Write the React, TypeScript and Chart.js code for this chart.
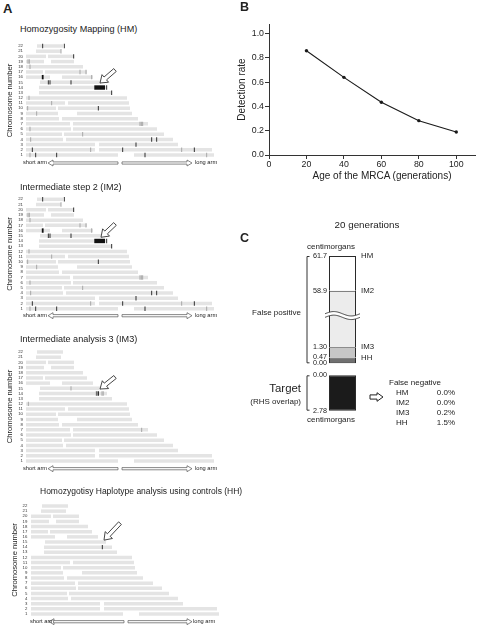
import React, { useEffect, useRef } from 'react';
import { Chart, registerables } from 'chart.js';

Chart.register(...registerables);

const FONT = "'Liberation Sans', Arial, Helvetica, sans-serif";
const INK = '#222222';

// ---------------- Panel A data (positions along each chromosome, arbitrary map units) ----------------
const CHROMOSOMES = ['22', '21', '20', '19', '18', '17', '16', '15', '14', '13', '12', '11', '10', '9', '8', '7', '6', '5', '4', '3', '2', '1'];
const SHORT_ARM = [null, null, [0, 20], [0, 18], [0, 57], [0, 17], [0, 24], null, null, null, [0, 101], [0, 39], [0, 30], [0, 32], [0, 33], [0, 44], [0, 45], [0, 36], [0, 37], [0, 69], [0, 69], [0, 92]];
const LONG_ARM = [[11, 37], [10, 35], [22, 48], [25, 48], null, [19, 61], [36, 67], [14, 75], [13, 81], [13, 86], null, [42, 103], [32, 104], [51, 106], [36, 112], [47, 122], [47, 131], [38, 138], [40, 147], [73, 152], [73, 186], [108, 188]];

const HM_DARK_MARKS = [['22', 16.7], ['22', 38.3], ['20', 47.7], ['15', 22.3], ['15', 24], ['15', 45], ['14', 80.7], ['13', 85.7], ['10', 72.3], ['4', 125.7], ['4', 130.7], ['3', 110], ['2', 6.3], ['2', 96.7], ['2', 168.3], ['1', 9.7], ['1', 30.7], ['1', 119]];
const HM_GRAY_MARKS = [['21', 35], ['19', 2], ['19', 3.3], ['18', 4], ['17', 54], ['17', 60], ['16', 65.7], ['12', 3], ['11', 25.7], ['10', 1.7], ['9', 10.7], ['7', 114], ['7', 115.3], ['7', 116.7], ['6', 4], ['5', 56.7], ['4', 4.7], ['2', 64.7], ['2', 155.7], ['1', 4], ['1', 180.7]];
const HM_BLOCKS = [['16', 15.8, 17.6], ['14', 68.3, 79]];

const IM2_DARK_MARKS = HM_DARK_MARKS;
const IM2_GRAY_MARKS = HM_GRAY_MARKS;
const IM2_BLOCKS = HM_BLOCKS;

const IM3_DARK_MARKS = [['14', 71], ['14', 72.5]];
const IM3_GRAY_MARKS = [['15', 45], ['14', 70.2], ['14', 76], ['14', 77.2], ['12', 2.3], ['7', 115.7]];
const IM3_BLOCKS = [];

const HH_DARK_MARKS = [['14', 71.3]];
const HH_GRAY_MARKS = [];
const HH_BLOCKS = [];

// ---------------- Panel B data ----------------
const MRCA_AGES = [20, 40, 60, 80, 100];
const DETECTION_RATE = [0.86, 0.64, 0.435, 0.283, 0.19];
const AGE_TICKS = [0, 20, 40, 60, 80, 100];
const RATE_TICKS = [0, 0.2, 0.4, 0.6, 0.8, 1.0];

// ---------------- Panel C data ----------------
const METHODS = ['HM', 'IM2', 'IM3', 'HH'];
const FP_LEVELS = [61.7, 58.9, 1.3, 0.47]; // false positive extent (cM)
const FP_LEVEL_LABELS = ['61.7', '58.9', '1.30', '0.47', '0.00'];
const TARGET_RANGE = [0, 2.78];
const TARGET_LABELS = ['0.00', '2.78'];
const FALSE_NEGATIVE = [0.0, 0.0, 0.2, 1.5];

// ---------------- styling ----------------
const ARM_COLOR = '#e4e4e4';
const MARK_DARK = '#1c1c1c';
const MARK_GRAY = '#a0a0a0';
const MARK_W = 0.9;
const X_SPAN = 200;
const BAND_COLORS = ['#ffffff', '#ececec', '#c6c6c6', '#707070'];
const CUT_ABOVE = 4;
const CUT_SIZE = 53.05;
const BREAK_AT = 3.85;
const shown = (v: number) => (v > CUT_ABOVE ? v - CUT_SIZE : v);

const PANELS_A = [
  { key: 'HM', title: 'Homozygosity Mapping (HM)', titleX: 20, titleY: 30, titleSize: 9.1, row22: 46, row1: 155, left: 26, tickPad: 3, yTitlePad: 5.5, legendY: 163, legend: [23, 48, 118, 122, 192, 195], ptr: [74, -4.5, 89, -17.5], dark: HM_DARK_MARKS, gray: HM_GRAY_MARKS, blocks: HM_BLOCKS },
  { key: 'IM2', title: 'Intermediate step 2 (IM2)', titleX: 20, titleY: 188, titleSize: 9.1, row22: 199.3, row1: 308.7, left: 26, tickPad: 3, yTitlePad: 5.5, legendY: 315.7, legend: [23, 48, 118, 122, 192, 195], ptr: [75, -3.7, 89, -17], dark: IM2_DARK_MARKS, gray: IM2_GRAY_MARKS, blocks: IM2_BLOCKS },
  { key: 'IM3', title: 'Intermediate analysis 3 (IM3)', titleX: 20, titleY: 340, titleSize: 9.1, row22: 352, row1: 461, left: 26, tickPad: 3, yTitlePad: 5.5, legendY: 468.7, legend: [23, 48, 118, 122, 192, 195], ptr: [74, -4.5, 89, -16.5], dark: IM3_DARK_MARKS, gray: IM3_GRAY_MARKS, blocks: IM3_BLOCKS },
  { key: 'HH', title: 'Homozygotisy Haplotype analysis using controls (HH)', titleX: 40, titleY: 491.7, titleSize: 8.5, row22: 506, row1: 614, left: 31, tickPad: 3.7, yTitlePad: 10.5, legendY: 621.7, legend: [30, 49, 124, 128, 192, 193], ptr: [73, -7, 89, -24], dark: HH_DARK_MARKS, gray: HH_GRAY_MARKS, blocks: HH_BLOCKS },
];

function hollowArrow(ctx: CanvasRenderingContext2D, tx: number, ty: number, fx: number, fy: number, headLen: number, headHalf: number, shaftHalf: number, color: string, lw: number) {
  const L = Math.hypot(fx - tx, fy - ty);
  const dx = (fx - tx) / L, dy = (fy - ty) / L;
  const nx = -dy, ny = dx;
  const hx = tx + dx * headLen, hy = ty + dy * headLen;
  ctx.save();
  ctx.beginPath();
  ctx.moveTo(tx, ty);
  ctx.lineTo(hx + nx * headHalf, hy + ny * headHalf);
  ctx.lineTo(hx + nx * shaftHalf, hy + ny * shaftHalf);
  ctx.lineTo(fx + nx * shaftHalf, fy + ny * shaftHalf);
  ctx.lineTo(fx - nx * shaftHalf, fy - ny * shaftHalf);
  ctx.lineTo(hx - nx * shaftHalf, hy - ny * shaftHalf);
  ctx.lineTo(hx - nx * headHalf, hy - ny * headHalf);
  ctx.closePath();
  ctx.fillStyle = '#ffffff';
  ctx.fill();
  ctx.strokeStyle = color;
  ctx.lineWidth = lw;
  ctx.lineJoin = 'miter';
  ctx.stroke();
  ctx.restore();
}

const flatBar = { borderWidth: 0, borderColor: 'rgba(0,0,0,0)', inflateAmount: 0, borderSkipped: false };

function panelAConfig(p: any, top: number, height: number) {
  const sp = (p.row1 - p.row22) / 21;
  const areaTop = p.row22 - sp / 2 - top;
  const areaBottom = p.row1 + sp / 2 - top;
  const line = (m: any) => ({ y: m[0], x: [m[1] - MARK_W / 2, m[1] + MARK_W / 2] });
  const block = (m: any) => ({ y: m[0], x: [m[1], m[2]] });
  const decor = {
    id: 'decorA' + p.key,
    afterDraw(chart: any) {
      const ctx = chart.ctx;
      const xs = chart.scales.x;
      const ys = chart.scales.y;
      const y14 = ys.getPixelForValue(CHROMOSOMES.indexOf('14'));
      hollowArrow(ctx, xs.getPixelForValue(p.ptr[0]), y14 + p.ptr[1], xs.getPixelForValue(p.ptr[2]), y14 + p.ptr[3], 7, 5, 1.9, '#333', 0.9);
      const ly = p.legendY - top;
      const [, l1, l2, r1, r2] = p.legend;
      hollowArrow(ctx, l1, ly, l2, ly, 5, 3, 1.1, '#555', 0.7);
      hollowArrow(ctx, r2, ly, r1, ly, 5, 3, 1.1, '#555', 0.7);
    },
  };
  // Chart.js paints datasets from last to first: the arms are listed last so that the marks sit on top.
  return {
    type: 'bar',
    data: {
      labels: CHROMOSOMES,
      datasets: [
        { data: p.blocks.map(block), backgroundColor: '#111111', barThickness: 4.4, ...flatBar },
        { data: p.dark.map(line), backgroundColor: MARK_DARK, barThickness: 4.4, ...flatBar },
        { data: p.gray.map(line), backgroundColor: MARK_GRAY, barThickness: 4.4, ...flatBar },
        { data: LONG_ARM, backgroundColor: ARM_COLOR, barThickness: 3.5, ...flatBar },
        { data: SHORT_ARM, backgroundColor: ARM_COLOR, barThickness: 3.5, ...flatBar },
      ],
    },
    options: {
      indexAxis: 'y',
      responsive: false,
      animation: false,
      events: [],
      datasets: { bar: { grouped: false, clip: false } },
      layout: { padding: { top: areaTop, bottom: height - areaBottom, left: 0, right: 240 - p.left - X_SPAN } },
      plugins: { legend: { display: false }, tooltip: { enabled: false } },
      scales: {
        x: { type: 'linear', display: false, min: 0, max: X_SPAN },
        y: {
          type: 'category',
          offset: true,
          grid: { display: false, drawTicks: false },
          border: { display: false },
          ticks: { font: { family: FONT, size: 4.3 }, color: '#333', padding: p.tickPad, autoSkip: false },
          afterFit: (s: any) => { s.width = p.left; },
          title: { display: true, text: 'Chromosome number', font: { family: FONT, size: 7.6 }, color: INK, padding: { top: p.yTitlePad, bottom: 0 } },
        },
      },
    },
    plugins: [decor],
  };
}

function panelBConfig() {
  const axisGrid = { display: true, drawOnChartArea: false, drawTicks: true, tickLength: 4, color: '#333', lineWidth: 1 };
  return {
    type: 'line',
    data: {
      datasets: [{
        data: MRCA_AGES.map((a, i) => ({ x: a, y: DETECTION_RATE[i] })),
        borderColor: '#1a1a1a', borderWidth: 1.1, pointRadius: 1.7, pointBackgroundColor: '#1a1a1a', pointBorderWidth: 0, tension: 0,
      }],
    },
    options: {
      responsive: false,
      animation: false,
      events: [],
      layout: { padding: { top: 24, right: 5, left: 0, bottom: 0 } },
      plugins: { legend: { display: false }, tooltip: { enabled: false } },
      scales: {
        x: {
          type: 'linear', min: 0, max: 110,
          afterBuildTicks: (s: any) => { s.ticks = AGE_TICKS.map((v) => ({ value: v })); },
          ticks: { font: { family: FONT, size: 8.8 }, color: INK, padding: 0, maxRotation: 0, autoSkip: false, callback: (v: any) => String(v) },
          grid: axisGrid,
          border: { display: true, color: '#333', width: 1 },
          afterFit: (s: any) => { s.height = 30; },
        },
        y: {
          type: 'linear', min: 0, max: 1.08,
          afterBuildTicks: (s: any) => { s.ticks = RATE_TICKS.map((v) => ({ value: v })); },
          ticks: { font: { family: FONT, size: 8.8 }, color: INK, padding: 1, autoSkip: false, callback: (v: any) => Number(v).toFixed(1) },
          grid: axisGrid,
          border: { display: true, color: '#333', width: 1 },
          afterFit: (s: any) => { s.width = 33; },
          title: { display: true, text: 'Detection rate', font: { family: FONT, size: 10 }, color: INK, padding: { top: 0, bottom: 0 } },
        },
      },
    },
  };
}

function bracket(ctx: any, x: number, y1: number, y2: number) {
  ctx.save();
  ctx.strokeStyle = '#333';
  ctx.lineWidth = 1;
  ctx.beginPath();
  ctx.moveTo(x + 3, y1 + 0.5);
  ctx.lineTo(x + 0.5, y1 + 0.5);
  ctx.lineTo(x + 0.5, y2 - 0.5);
  ctx.lineTo(x + 3, y2 - 0.5);
  ctx.stroke();
  ctx.restore();
}

const sideAxis = (labels: string[], values: number[], pos: string, width: number, pad: number, size: number, extra: any) => ({
  type: 'linear',
  position: pos,
  ...extra,
  afterBuildTicks: (s: any) => { s.ticks = values.map((v) => ({ value: v })); },
  ticks: { autoSkip: false, padding: pad, font: { family: FONT, size }, color: INK, callback: (_v: any, i: number) => labels[i] },
  grid: { display: false, drawTicks: false },
  border: { display: false },
  afterFit: (s: any) => { s.width = width; },
});

function panelC1Config() {
  const maxShown = shown(FP_LEVELS[0]);
  const decor = {
    id: 'decorC1',
    afterDatasetsDraw(chart: any) {
      const ctx = chart.ctx;
      const area = chart.chartArea;
      const y0 = chart.scales.y.getPixelForValue(BREAK_AT);
      const xL = area.left - 4, xR = area.right + 4;
      const wave = (off: number, t: number) => y0 + off - 2.2 * Math.sin(t * Math.PI * 2);
      ctx.save();
      ctx.beginPath();
      for (let k = 0; k <= 40; k++) { const t = k / 40; const x = xL + t * (xR - xL); k === 0 ? ctx.moveTo(x, wave(-1.8, t)) : ctx.lineTo(x, wave(-1.8, t)); }
      for (let k = 40; k >= 0; k--) { const t = k / 40; ctx.lineTo(xL + t * (xR - xL), wave(1.8, t)); }
      ctx.closePath();
      ctx.fillStyle = '#ffffff';
      ctx.fill();
      ctx.strokeStyle = '#333';
      ctx.lineWidth = 0.9;
      [-1.8, 1.8].forEach((off) => {
        ctx.beginPath();
        for (let k = 0; k <= 40; k++) { const t = k / 40; const x = xL + t * (xR - xL); k === 0 ? ctx.moveTo(x, wave(off, t)) : ctx.lineTo(x, wave(off, t)); }
        ctx.stroke();
      });
      ctx.restore();
    },
    afterDraw(chart: any) {
      const area = chart.chartArea;
      bracket(chart.ctx, 66.5, area.top, area.bottom);
    },
  };
  return {
    type: 'bar',
    data: {
      labels: [''],
      datasets: METHODS.map((m, i) => ({
        label: m,
        data: [[shown(FP_LEVELS[i + 1] ?? 0), shown(FP_LEVELS[i])]],
        backgroundColor: BAND_COLORS[i],
        borderColor: '#2a2a2a',
        borderWidth: { top: 1, left: 1, right: 1, bottom: i === METHODS.length - 1 ? 1 : 0 },
        borderSkipped: false,
        inflateAmount: 0,
      })),
    },
    options: {
      responsive: false,
      animation: false,
      events: [],
      datasets: { bar: { grouped: false, barPercentage: 1, categoryPercentage: 1, clip: false } },
      layout: { padding: { top: 11, bottom: 5, left: 0, right: 0 } },
      plugins: { legend: { display: false }, tooltip: { enabled: false } },
      scales: {
        x: { display: false },
        y: sideAxis(FP_LEVEL_LABELS, [...FP_LEVELS, 0].map(shown), 'left', 89, 2, 7.2, { min: 0, max: maxShown }),
        y2: sideAxis(METHODS, FP_LEVELS.map(shown), 'right', 124, 5, 7.8, { min: 0, max: maxShown }),
      },
    },
    plugins: [decor],
  };
}

function panelC2Config() {
  const decor = {
    id: 'decorC2',
    afterDraw(chart: any) {
      const area = chart.chartArea;
      bracket(chart.ctx, 66.5, area.top, area.bottom);
      const ay = (area.top + area.bottom) / 2 + 4;
      hollowArrow(chart.ctx, 143, ay, 130, ay, 6, 4.3, 2.1, '#222', 1);
    },
  };
  return {
    type: 'bar',
    data: {
      labels: [''],
      datasets: [{ data: [[TARGET_RANGE[0], TARGET_RANGE[1]]], backgroundColor: '#1b1b1b', borderColor: '#2a2a2a', borderWidth: 1, borderSkipped: false, inflateAmount: 0 }],
    },
    options: {
      responsive: false,
      animation: false,
      events: [],
      datasets: { bar: { grouped: false, barPercentage: 1, categoryPercentage: 1, clip: false } },
      layout: { padding: { top: 5, bottom: 6, left: 0, right: 124 } },
      plugins: { legend: { display: false }, tooltip: { enabled: false } },
      scales: {
        x: { display: false },
        y: sideAxis(TARGET_LABELS, TARGET_RANGE, 'left', 89, 2, 7.2, { min: TARGET_RANGE[0], max: TARGET_RANGE[1], reverse: true }),
      },
    },
    plugins: [decor],
  };
}

function ChartCanvas({ left, top, width, height, make }: any) {
  const ref = useRef<HTMLCanvasElement>(null);
  useEffect(() => {
    const chart = new Chart(ref.current as any, make());
    return () => chart.destroy();
  }, []);
  return <canvas ref={ref} width={width} height={height} style={{ position: 'absolute', left, top, width, height, display: 'block' }} />;
}

function Txt({ x, y, size, align = 'left', bold = false, children }: any) {
  const shift = align === 'center' ? 'translateX(-50%)' : align === 'right' ? 'translateX(-100%)' : 'none';
  return (
    <div style={{ position: 'absolute', left: x, top: y - size / 2, fontSize: size, lineHeight: `${size}px`, fontWeight: bold ? 700 : 400, whiteSpace: 'nowrap', transform: shift, fontFamily: FONT, color: INK }}>
      {children}
    </div>
  );
}

export default function App() {
  return (
    <div style={{ position: 'absolute', left: 0, top: 0, width: 480, height: 628, background: '#ffffff', overflow: 'hidden', fontFamily: FONT }}>
      {PANELS_A.map((p) => {
        const top = Math.floor(p.row22 - 10);
        const height = Math.ceil(p.legendY + 6) - top;
        return (
          <React.Fragment key={p.key}>
            <ChartCanvas left={0} top={top} width={240} height={height} make={() => panelAConfig(p, top, height)} />
            <Txt x={p.titleX} y={p.titleY} size={p.titleSize}>{p.title}</Txt>
            <Txt x={p.legend[0]} y={p.legendY} size={5.7}>short arm</Txt>
            <Txt x={p.legend[5]} y={p.legendY} size={5.7}>long arm</Txt>
          </React.Fragment>
        );
      })}
      <ChartCanvas left={236} top={0} width={244} height={185} make={panelBConfig} />
      <ChartCanvas left={240} top={245} width={240} height={128} make={panelC1Config} />
      <ChartCanvas left={240} top={369} width={240} height={48} make={panelC2Config} />

      <Txt x={3} y={8} size={13} bold>A</Txt>
      <Txt x={240} y={7.5} size={12.5} bold>B</Txt>
      <Txt x={240} y={238.5} size={12.5} bold>C</Txt>

      <Txt x={382} y={176} size={10} align="center">Age of the MRCA (generations)</Txt>

      <Txt x={367} y={225} size={9.8} align="center">20 generations</Txt>
      <Txt x={331} y={247} size={8} align="center">centimorgans</Txt>
      <Txt x={331} y={420} size={8} align="center">centimorgans</Txt>
      <Txt x={301} y={313} size={8} align="right">False positive</Txt>
      <Txt x={301} y={388.3} size={11.4} align="right">Target</Txt>
      <Txt x={301} y={401.7} size={8} align="right">(RHS overlap)</Txt>
      <Txt x={389} y={383} size={8}>False negative</Txt>
      {METHODS.map((m, i) => (
        <React.Fragment key={m}>
          <Txt x={396} y={393.3 + i * 10} size={8}>{m}</Txt>
          <Txt x={455} y={393.3 + i * 10} size={8} align="right">{FALSE_NEGATIVE[i].toFixed(1) + '%'}</Txt>
        </React.Fragment>
      ))}
    </div>
  );
}
